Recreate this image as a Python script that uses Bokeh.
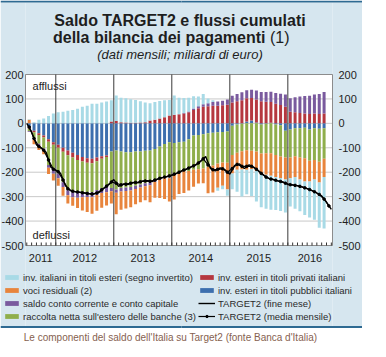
import numpy as np
from bokeh.plotting import figure
from bokeh.models import Legend, LegendItem, Range1d
from bokeh.core.properties import value
from bokeh.embed import file_html
from bokeh.resources import INLINE

# ---------------- data (miliardi di euro) ----------------
# monthly bars: Jul 2011 .. Aug 2016
bar_months = [(2011, m) for m in range(7, 13)] + \
             [(y, m) for y in range(2012, 2016) for m in range(1, 13)] + \
             [(2016, m) for m in range(1, 9)]

pubblici = [-18, -30, -40, -50, -65, -77,
            -88, -100, -111, -120, -130, -138, -143, -145, -140, -135, -132, -115,
            -111, -115, -118, -118, -115, -115, -112, -111, -105, -95, -85, -77,
            -80, -77, -75, -65, -50, -48, -45, -40, -38, -36, -35, -33,
            -10, -5, -2, 8, 12, 3, -5, -2, 2, -5, -8, -30,
            -25, -20, -20, -18, -25, -20, -22, -20]
privati = [-4, -6, -8, -8, -10, -11,
           -12, -16, -20, -20, -20, -18, -18, -18, -15, -10, -6, 8,
           10, 5, 3, 2, 2, 3, 5, 12, 15, 20, 25, 32,
           35, 37, 40, 45, 55, 62, 68, 70, 72, 72, 74, 76,
           85, 90, 95, 95, 92, 95, 90, 88, 85, 80, 75, 68,
           48, 45, 42, 40, 38, 40, 38, 40]
banche = [-10, -25, -35, -45, -95, -98,
          -105, -125, -143, -142, -135, -126, -120, -119, -118, -120, -123, -150,
          -160, -150, -145, -143, -140, -135, -133, -130, -125, -128, -135, -145,
          -125, -122, -120, -130, -140, -140, -140, -138, -135, -128, -125, -128,
          -120, -115, -112, -110, -112, -115, -118, -120, -122, -125, -128, -110,
          -115, -115, -120, -125, -128, -130, -135, -125]
conto_corrente = [-3, -5, -6, -8, -12, -20,
                  -20, -20, -20, -20, -20, -20, -20, -20, -20, -20, -21, -13,
                  -13, -14, -14, -14, -14, -13, -12, -12, -10, -8, -5, -3,
                  -2, 0, 2, 4, 6, 8, 10, 12, 15, 17, 19, 22,
                  28, 30, 32, 33, 34, 36, 38, 40, 42, 44, 46, 50,
                  55, 62, 68, 72, 75, 78, 82, 88]
residuali = [15, -20, -20, -15, -25, -28,
             -30, -35, -34, -35, -42, -55, -62, -68, -65, -60, -54, -50,
             -88, -75, -72, -68, -62, -60, -58, -70, -65, -75, -85, -95,
             -105, -90, -90, -80, -70, -58, -60, -108, -110, -100, -95, -110,
             -75, -70, -75, -80, -75, -80, -85, -88, -92, -90, -88, -90,
             -85, -85, -90, -95, -85, -80, -85, -75]
titoli_esteri = [2, 5, 15, 20, 30, 40,
                 45, 48, 52, 55, 60, 68, 72, 80, 80, 85, 89, 87,
                 104, 100, 100, 97, 94, 88, 80, 70, 72, 72, 70, 64,
                 79, 68, 62, 56, 50, 40, 42, 20, 8, -12, -15, -25,
                 -65, -90, -110, -100, -110, -125, -135, -140, -140, -135, -135, -135,
                 -115, -130, -130, -137, -147, -165, -185, -210]

# TARGET2, end of month: Jun 2011 .. Sep 2016
t2_end_months = [(2011, m) for m in range(6, 13)] + \
                [(y, m) for y in range(2012, 2016) for m in range(1, 13)] + \
                [(2016, m) for m in range(1, 10)]
t2_fine_mese = [0, -35, -88, -100, -118, -180, -191,
                -205, -255, -275, -280, -282, -285, -288, -289, -282, -265, -250, -230,
                -258, -248, -250, -242, -243, -236, -235, -238, -228, -222, -218, -213,
                -205, -195, -188, -178, -170, -155, -136, -185, -195, -182, -190, -208,
                -172, -166, -185, -170, -180, -195, -212, -225, -230, -236, -240, -250,
                -252, -255, -260, -267, -275, -285, -297, -322, -352]
# TARGET2, monthly average: Jul 2011 .. Sep 2016
t2_avg_months = [(2011, m) for m in range(7, 13)] + \
                [(y, m) for y in range(2012, 2016) for m in range(1, 13)] + \
                [(2016, m) for m in range(1, 10)]
t2_media_mensile = [-15, -62, -95, -110, -150, -188,
                    -198, -232, -268, -278, -281, -284, -287, -289, -285, -272, -257, -240,
                    -245, -252, -249, -245, -242, -239, -236, -237, -232, -225, -220, -215,
                    -208, -200, -191, -183, -174, -162, -145, -170, -190, -188, -186, -200,
                    -185, -168, -176, -176, -176, -188, -205, -220, -228, -233, -238, -245,
                    -251, -254, -258, -264, -271, -280, -291, -310, -338]

year_labels = ["2011", "2012", "2013", "2014", "2015", "2016"]
year_label_pos = [2011.74, 2012.5, 2013.5, 2014.5, 2015.5, 2016.38]
year_separators = [2012, 2013, 2014, 2015, 2016]
y_ticks = [-500, -400, -300, -200, -100, 0, 100, 200]
y_tick_labels = [str(t) for t in y_ticks]

series = [
    ("inv. esteri in titoli pubblici italiani", pubblici, "#3d6fae"),
    ("inv. esteri in titoli privati italiani", privati, "#b5373f"),
    ("raccolta netta sull'estero delle banche (3)", banche, "#8fae4b"),
    ("saldo conto corrente e conto capitale", conto_corrente, "#7a5a9e"),
    ("voci residuali (2)", residuali, "#e8843c"),
    ("inv. italiani in titoli esteri (segno invertito)", titoli_esteri, "#a8dae6"),
]

title_1 = "Saldo TARGET2 e flussi cumulati"
title_2 = "della bilancia dei pagamenti"
title_2b = "(1)"
subtitle = "(dati mensili; miliardi di euro)"
caption = "Le componenti del saldo dell'Italia su Target2 (fonte Banca d'Italia)"

# ---------------- layout constants (figure pixels, measured from top-left) ----------------
W, H = 362, 347
FL, FR, FT, FB = 25, 332, 74, 245          # plot area inside the figure
X0, X1 = 2011.478, 2016.77                 # data extent of plot area
Y0, Y1 = -500, 200
BOX = "#d6e6ef"
DARK = "#2e6a92"
FONT = "Liberation Sans"
TXT = "#1e1e1e"

ppx = (FR - FL) / (X1 - X0)
ppy = (FB - FT) / (Y1 - Y0)
XR0 = X0 - FL / ppx
YR0 = Y0 - (H - FB) / ppy


def dx(px):
    """figure pixel (from left) -> x data value, for layout decorations"""
    return XR0 + px / ppx


def dy(py):
    """figure pixel (from top) -> y data value, for layout decorations"""
    return YR0 + (H - py) / ppy


p = figure(width=W, height=H, output_backend="svg", toolbar_location=None,
           x_range=Range1d(XR0, dx(W)), y_range=Range1d(YR0, dy(0)),
           x_axis_type=None, y_axis_type=None, min_border=0)
p.grid.visible = False
p.outline_line_color = None
p.background_fill_color = "white"
p.border_fill_color = "white"

# light-blue box around the plot area, drawn as four panels (left, right, top, bottom)
box_l = [0, FR, FL, FL]
box_r = [FL, W, FR, FR]
box_t = [2, 2, 2, FB]
box_b = [326, 326, FT, 326]
p.quad(left=[dx(v) for v in box_l], right=[dx(v) for v in box_r],
       top=[dy(v) for v in box_t], bottom=[dy(v) for v in box_b],
       fill_color=BOX, line_color=None)

# dark rules above and below the box (in two halves each)
rule_l = [0, W / 2, 0, W / 2]
rule_r = [W / 2, W, W / 2, W]
rule_t = [0, 0, 325.5, 325.5]
rule_b = [2, 2, 327.5, 327.5]
p.quad(left=[dx(v) for v in rule_l], right=[dx(v) for v in rule_r],
       top=[dy(v) for v in rule_t], bottom=[dy(v) for v in rule_b],
       fill_color=DARK, line_color=None)

# grid
p.segment(x0=[X0] * len(y_ticks), x1=[X1] * len(y_ticks), y0=y_ticks, y1=y_ticks,
          line_color="#c9c9c9", line_width=1)

# stacked bars (positive and negative stacked separately)
bar_x = [y + (m - 0.5) / 12 for (y, m) in bar_months]
end_x = [y + m / 12 for (y, m) in t2_end_months]
avg_x = [y + (m - 0.5) / 12 for (y, m) in t2_avg_months]

pos_base = np.zeros(len(bar_x))
neg_base = np.zeros(len(bar_x))
rends = {}
for name, vals, col in series:
    v = np.array(vals, dtype=float)
    bottom = np.where(v >= 0, pos_base, neg_base + v)
    top = np.where(v >= 0, pos_base + v, neg_base)
    rends[name] = p.vbar(x=bar_x, width=0.62 / 12, bottom=bottom, top=top,
                         fill_color=col, line_color=None)
    pos_base = np.where(v >= 0, pos_base + v, pos_base)
    neg_base = np.where(v < 0, neg_base + v, neg_base)

# frame outline, year separators, month ticks
p.quad(left=[X0], right=[X1], bottom=[Y0], top=[Y1], fill_color=None,
       line_color="#8c8c8c", line_width=1)
p.segment(x0=year_separators, x1=year_separators, y0=[Y0] * 5, y1=[Y1] * 5,
          line_color="#3a3a3a", line_width=1)
month_ticks = [2011.5 + k / 12 for k in range(0, 64)]
p.segment(x0=month_ticks, x1=month_ticks, y0=[Y0] * len(month_ticks),
          y1=[Y0 + 3 / ppy] * len(month_ticks), line_color="#333333", line_width=1)

# TARGET2 lines
r_end = p.line(end_x, t2_fine_mese, line_color="black", line_width=1.4)
r_avg = p.line(avg_x, t2_media_mensile, line_color="black", line_width=1.2)
r_avg_m = p.scatter(avg_x, t2_media_mensile, marker="circle", size=2.6,
                    fill_color="black", line_color="black")

# tick labels
tick_style = dict(text_font=value(FONT), text_font_size="11px", text_color=TXT,
                  text_baseline="middle")
p.text(x=[X0] * len(y_ticks), y=y_ticks, text=y_tick_labels, x_offset=-2,
       text_align="right", **tick_style)
p.text(x=[X1] * len(y_ticks), y=y_ticks, text=y_tick_labels, x_offset=6,
       text_align="left", **tick_style)
p.text(x=year_label_pos, y=[dy(FB + 12.5)] * len(year_label_pos), text=year_labels,
       text_align="center", **tick_style)

# in-plot words
p.text(x=[2011.6], y=[152], text=["afflussi"], text_align="left", **tick_style)
p.text(x=[2011.6], y=[-455], text=["deflussi"], text_align="left", **tick_style)

# titles
p.text(x=[dx(179.5)], y=[dy(20)], text=[title_1], text_font=value(FONT), text_font_size="16px",
       text_font_style="bold", text_color=TXT, text_align="center", text_baseline="alphabetic")
p.text(x=[dx(265)], y=[dy(36.5)], text=[title_2], text_font=value(FONT), text_font_size="16px",
       text_font_style="bold", text_color=TXT, text_align="right", text_baseline="alphabetic")
p.text(x=[dx(269.5)], y=[dy(36.5)], text=[title_2b], text_font=value(FONT), text_font_size="16px",
       text_color=TXT, text_align="left", text_baseline="alphabetic")
p.text(x=[dx(179.5)], y=[dy(54)], text=[subtitle], text_font=value(FONT), text_font_size="13px",
       text_font_style="italic", text_color=TXT, text_align="center", text_baseline="alphabetic")

# caption
p.text(x=[dx(170)], y=[dy(337)], text=[caption], text_font=value(FONT), text_font_size="10px",
       text_color="#86614f", text_align="center", text_baseline="middle")


# legends
def make_legend(items, loc):
    lg = Legend(items=items, location=loc, orientation="vertical")
    lg.glyph_width = 17
    lg.glyph_height = 6
    lg.label_standoff = 3
    lg.padding = 0
    lg.margin = 0
    lg.spacing = 1
    lg.label_height = 12
    lg.label_text_font = FONT
    lg.label_text_font_size = "9.5px"
    lg.label_text_color = "#2a2a2a"
    lg.background_fill_alpha = 0
    lg.border_line_color = None
    return lg


names = [s[0] for s in series]
left_items = [LegendItem(label=names[k], renderers=[rends[names[k]]]) for k in (5, 4, 3, 2)]
right_items = [LegendItem(label=names[1], renderers=[rends[names[1]]]),
               LegendItem(label=names[0], renderers=[rends[names[0]]]),
               LegendItem(label="TARGET2 (fine mese)", renderers=[r_end]),
               LegendItem(label="TARGET2 (media mensile)", renderers=[r_avg, r_avg_m])]
p.add_layout(make_legend(left_items, (3, 25)))
p.add_layout(make_legend(right_items, (198, 25)))

open("out.html", "w").write(file_html(p, INLINE))
